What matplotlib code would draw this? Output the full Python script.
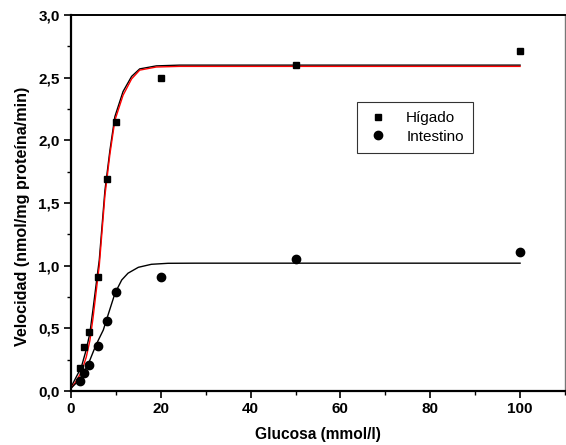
import matplotlib
matplotlib.use("Agg")
import matplotlib.pyplot as plt
from matplotlib.ticker import MultipleLocator, FuncFormatter

# Measured initial rates
glucosa = [2, 3, 4, 6, 8, 10, 20, 50, 100]
higado = [0.18, 0.35, 0.47, 0.91, 1.69, 2.15, 2.50, 2.60, 2.71]
intestino = [0.08, 0.14, 0.21, 0.36, 0.56, 0.79, 0.91, 1.05, 1.11]

# Sigmoidal fit curves (sampled)
fit_x_hig = [0.0, 1.0, 2.3, 3.4, 4.2, 4.9, 5.6, 6.3, 7.56, 8.67, 9.78, 11.6, 13.5, 15.3, 19.0, 24.2, 40, 60, 80, 100]
fit_hig_black = [0.03, 0.10, 0.19, 0.33, 0.46, 0.65, 0.85, 1.045, 1.60, 1.92, 2.19, 2.39, 2.51, 2.57, 2.594, 2.60, 2.60, 2.60, 2.60, 2.60]
fit_hig_red = [0.02, 0.07, 0.15, 0.27, 0.40, 0.58, 0.79, 1.00, 1.56, 1.89, 2.16, 2.36, 2.49, 2.56, 2.585, 2.59, 2.59, 2.59, 2.59, 2.59]

fit_x_int = [0.22, 1.85, 2.96, 4.07, 5.56, 7.2, 7.9, 9.8, 11.3, 12.7, 15.0, 17.9, 21.6, 27.6, 40, 60, 80, 100]
fit_int = [0.03, 0.088, 0.154, 0.234, 0.367, 0.487, 0.567, 0.78, 0.886, 0.94, 0.987, 1.011, 1.019, 1.02, 1.02, 1.02, 1.02, 1.02]

plt.rcParams['font.family'] = ['Liberation Sans', 'DejaVu Sans']

fig = plt.figure(figsize=(5.66, 4.45), dpi=100)
ax = fig.add_axes([0.1254, 0.1213, 0.8728, 0.845])

ax.plot(fit_x_hig, fit_hig_black, color='black', lw=1.0, zorder=2)
ax.plot(fit_x_hig, fit_hig_red, color='red', lw=1.0, zorder=2)
ax.plot(fit_x_int, fit_int, color='black', lw=1.0, zorder=2)

ax.plot(glucosa, higado, ls='none', marker='s', ms=5, color='black', label='Hígado', zorder=3)
ax.plot(glucosa, intestino, ls='none', marker='o', ms=6, color='black', label='Intestino', zorder=3)

ax.set_xlim(0, 110)
ax.set_ylim(0, 3.0)
ax.xaxis.set_major_locator(MultipleLocator(20))
ax.xaxis.set_minor_locator(MultipleLocator(10))
ax.yaxis.set_major_locator(MultipleLocator(0.5))
ax.yaxis.set_minor_locator(MultipleLocator(0.25))
ax.yaxis.set_major_formatter(FuncFormatter(lambda v, p: f"{v:.1f}".replace('.', ',')))
ax.xaxis.set_major_formatter(FuncFormatter(lambda v, p: f"{v:.0f}"))

ax.tick_params(which='major', direction='out', length=5, width=1.2, labelsize=11, pad=3)
ax.tick_params(which='minor', direction='out', length=3, width=1.0)
for lab in ax.get_xticklabels() + ax.get_yticklabels():
    lab.set_fontweight('bold')

for side in ['left', 'bottom']:
    ax.spines[side].set_linewidth(1.6)
ax.spines['top'].set_linewidth(1.4)
ax.spines['right'].set_linewidth(1.0)
ax.spines['right'].set_color('#777777')

ax.set_xlabel('Glucosa (mmol/l)', fontsize=11.2, fontweight='bold', labelpad=8)
ax.set_ylabel('Velocidad (nmol/mg proteína/min)', fontsize=11.6, fontweight='bold')
ax.yaxis.set_label_coords(-0.083, 0.465)

leg = ax.legend(loc='upper left', bbox_to_anchor=(0.5789, 0.7686), frameon=True, fancybox=False,
                edgecolor='black', fontsize=11, handlelength=1.57, handletextpad=1.05,
                borderpad=0.6, labelspacing=0.3, borderaxespad=0)
leg.get_frame().set_linewidth(0.8)

fig.savefig('out.png', dpi=100)
